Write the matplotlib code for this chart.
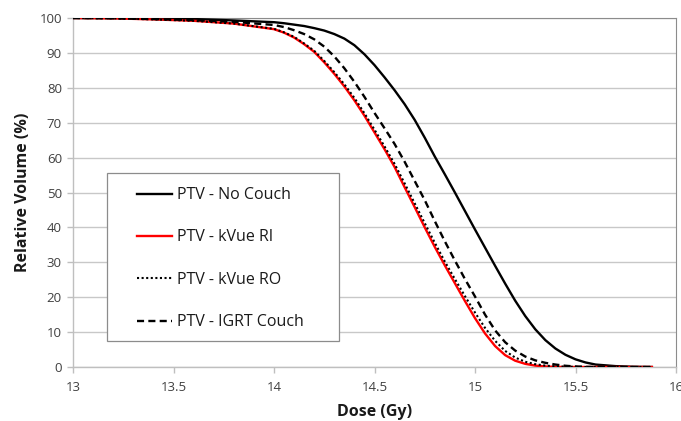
import matplotlib
matplotlib.use('Agg')
import matplotlib.pyplot as plt
from matplotlib.patches import Rectangle

plt.rcParams['font.family'] = ['Open Sans', 'DejaVu Sans']

dose = [13.0, 13.2, 13.4, 13.6, 13.8, 14.0, 14.05, 14.1, 14.15, 14.2, 14.25, 14.3, 14.35,
        14.4, 14.45, 14.5, 14.55, 14.6, 14.65, 14.7, 14.75, 14.8, 14.85, 14.9, 14.95,
        15.0, 15.05, 15.1, 15.15, 15.2, 15.25, 15.3, 15.35, 15.4, 15.45, 15.5, 15.55,
        15.6, 15.7, 15.8, 15.88]

no_couch = [100, 100, 99.9, 99.7, 99.3, 98.8, 98.5, 98.1, 97.7, 97.1, 96.4, 95.4, 94.1,
            92.2, 89.6, 86.5, 83.0, 79.3, 75.3, 70.8, 65.7, 60.3, 55.2, 50.0, 44.7,
            39.4, 34.2, 29.0, 23.9, 19.0, 14.6, 10.8, 7.7, 5.3, 3.5, 2.2, 1.3,
            0.7, 0.25, 0.05, 0]

kvue_ri = [100, 99.9, 99.6, 99.2, 98.4, 96.8, 95.8, 94.4, 92.5, 90.3, 87.3, 84.0, 80.4,
           76.4, 72.0, 67.2, 62.4, 57.3, 51.5, 45.8, 40.0, 34.4, 29.1, 24.0, 18.9,
           14.0, 9.6, 6.0, 3.4, 1.8, 0.9, 0.4, 0.15, 0.05, 0, 0, 0,
           0, 0, 0, 0]

kvue_ro = [100, 99.9, 99.6, 99.2, 98.4, 96.9, 95.9, 94.6, 92.7, 90.6, 87.7, 84.5, 81.0,
           77.1, 72.7, 68.0, 63.2, 58.2, 52.6, 46.9, 41.2, 35.6, 30.2, 25.2, 20.3,
           15.6, 11.2, 7.5, 4.6, 2.7, 1.5, 0.8, 0.4, 0.2, 0.1, 0.05, 0,
           0, 0, 0, 0]

igrt_couch = [100, 99.9, 99.7, 99.4, 98.9, 98.0, 97.4, 96.5, 95.4, 93.9, 91.8, 89.0, 85.6,
              81.7, 77.4, 72.8, 68.4, 63.9, 58.8, 53.3, 47.8, 41.8, 36.0, 30.5, 25.2,
              20.2, 15.0, 10.5, 7.1, 4.7, 3.0, 1.9, 1.2, 0.7, 0.35, 0.15, 0.05,
              0, 0, 0, 0]

labels = ['PTV - No Couch', 'PTV - kVue RI', 'PTV - kVue RO', 'PTV - IGRT Couch']
x_ticks = [13, 13.5, 14, 14.5, 15, 15.5, 16]
x_tick_labels = ['13', '13.5', '14', '14.5', '15', '15.5', '16']
y_ticks = [0, 10, 20, 30, 40, 50, 60, 70, 80, 90, 100]

fig = plt.figure(figsize=(6.81, 4.21), dpi=100)
ax = fig.add_axes([73 / 681, 1 - 367 / 421, 603 / 681, 349 / 421])

ax.plot(dose, no_couch, color='black', lw=1.7, label=labels[0], zorder=3)
ax.plot(dose, kvue_ri, color='#ff0000', lw=1.7, label=labels[1], zorder=3)
ax.plot(dose, kvue_ro, color='black', lw=1.5, linestyle=(0, (1, 1.2)), label=labels[2], zorder=4)
ax.plot(dose, igrt_couch, color='black', lw=1.7, linestyle=(0, (3, 1.8)), label=labels[3], zorder=4)

ax.set_xlim(13, 16)
ax.set_ylim(0, 100)
ax.set_xticks(x_ticks)
ax.set_xticklabels(x_tick_labels)
ax.set_yticks(y_ticks)
ax.grid(axis='y', color='#c8c8c8', lw=1.0, zorder=0)
ax.set_axisbelow(True)

for s in ['left', 'bottom']:
    ax.spines[s].set_color('#bfbfbf')
    ax.spines[s].set_linewidth(1.0)
for s in ['top', 'right']:
    ax.spines[s].set_color('#8c8c8c')
    ax.spines[s].set_linewidth(0.8)

ax.tick_params(axis='both', colors='#bfbfbf', labelcolor='#404040', labelsize=9.5,
               length=4, width=1.0, direction='out')
ax.tick_params(axis='x', pad=6)
ax.tick_params(axis='y', pad=4)

ax.set_xlabel('Dose (Gy)', fontsize=11.5, fontweight='bold', color='#1a1a1a', labelpad=7)
ax.set_ylabel('Relative Volume (%)', fontsize=11.5, fontweight='bold', color='#1a1a1a', labelpad=6)

# legend frame drawn separately so the box can be wider than its content
box = Rectangle((0.0564, 0.0745), 0.3848, 0.4815, transform=ax.transAxes,
                facecolor='white', edgecolor='#8c8c8c', lw=0.9, zorder=2)
ax.add_patch(box)

leg = ax.legend(loc='upper left', bbox_to_anchor=(0.106, 0.5155), fontsize=11.5,
                frameon=False, labelspacing=1.65, handlelength=2.2, handletextpad=0.3,
                borderpad=0.0, borderaxespad=0.0)
leg.set_zorder(5)
for t in leg.get_texts():
    t.set_color('#1a1a1a')

fig.savefig('out.png', dpi=100)
